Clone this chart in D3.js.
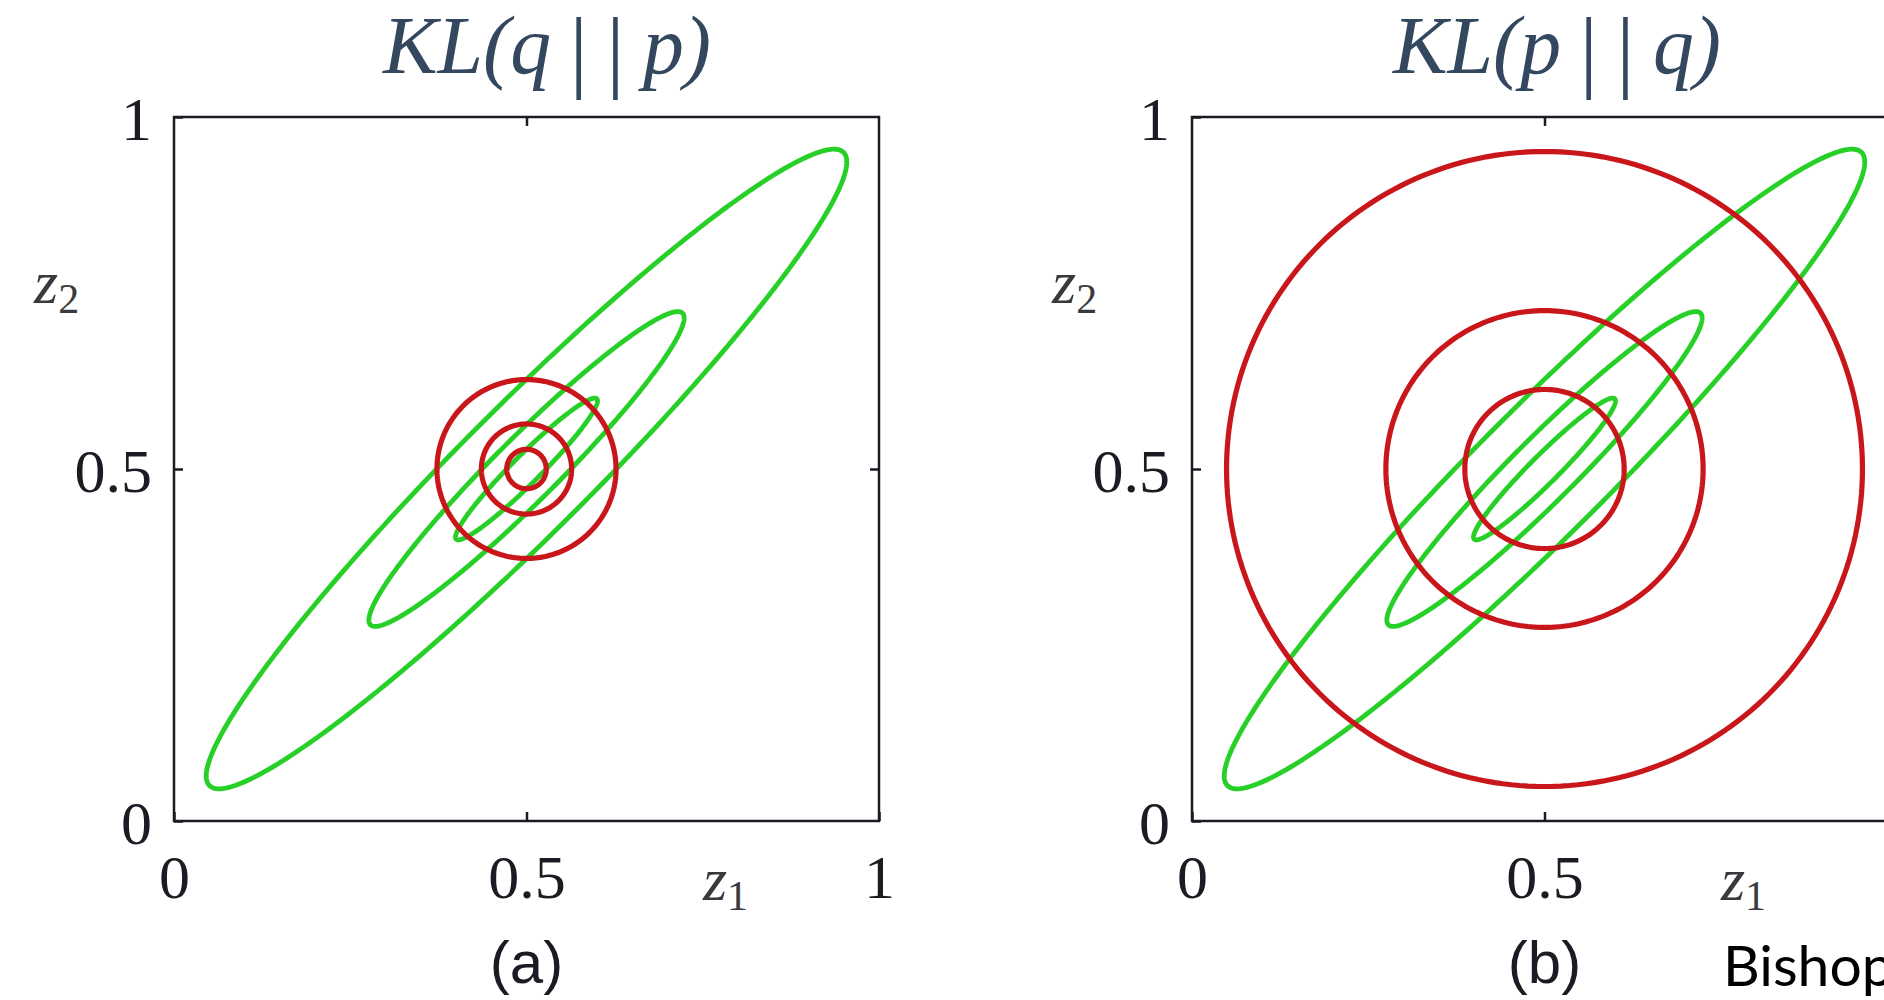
<!DOCTYPE html>
<html>
<head>
<meta charset="utf-8">
<script src="https://cdn.jsdelivr.net/npm/d3@7"></script>
<style>
  html, body { margin: 0; padding: 0; background: #ffffff; overflow: hidden; }
  svg { display: block; }
</style>
</head>
<body>
<svg id="chart" width="1884" height="1000"></svg>
<script>
// Panel headings and captions
const panelTitles = [["KL(", "q", "p", ")"], ["KL(", "p", "q", ")"]];
const panelCaptions = ["(a)", "(b)"];
const tickValues = [0, 0.5, 1];
const tickLabels = ["0", "0.5", "1"];

// p(z): correlated Gaussian, contours given as semi-axes along / across the diagonal
const pMean = [0.5, 0.5];
const pAngleDeg = 45;
const pMajor = [0.636, 0.313, 0.141];
const pMinor = [0.091, 0.045, 0.020];

// q(z): factorized Gaussian, circular contours around the same mean
const qMean = [0.5, 0.5];
const qRadiiA = [0.127, 0.064, 0.028];   // minimising KL(q||p)
const qRadiiB = [0.451, 0.225, 0.113];   // minimising KL(p||q)

const svg = d3.select("#chart");

const panels = [
  { left: 174, title: panelTitles[0], caption: panelCaptions[0], qRadii: qRadiiA, titleX: 383 },
  { left: 1192, title: panelTitles[1], caption: panelCaptions[1], qRadii: qRadiiB, titleX: 1393 }
];
const plotSize = 705, plotTop = 117;

const GREEN = "#27d027";
const RED = "#c8161a";
const INK = "#1c1a22";
const serif = "'Liberation Serif', 'Times New Roman', serif";

function ellipsePoints(c, a, b, angDeg, n) {
  const th = angDeg * Math.PI / 180;
  const pts = [];
  for (let i = 0; i < n; i++) {
    const t = 2 * Math.PI * i / n;
    const u = a * Math.cos(t), v = b * Math.sin(t);
    pts.push([c[0] + u * Math.cos(th) - v * Math.sin(th),
              c[1] + u * Math.sin(th) + v * Math.cos(th)]);
  }
  return pts;
}

panels.forEach(pn => {
  const x = d3.scaleLinear().domain([0, 1]).range([pn.left, pn.left + plotSize]);
  const y = d3.scaleLinear().domain([0, 1]).range([plotTop + plotSize - 1, plotTop]);
  const g = svg.append("g");

  const line = d3.line().x(d => x(d[0])).y(d => y(d[1])).curve(d3.curveLinearClosed);

  // green contours of p
  g.selectAll("path.p").data(pMajor.map((a, i) => ({ a, b: pMinor[i] })))
    .join("path").attr("class", "p")
    .attr("d", d => line(ellipsePoints(pMean, d.a, d.b, pAngleDeg, 360)))
    .attr("fill", "none").attr("stroke", GREEN).attr("stroke-width", 4.8);

  // red contours of q
  g.selectAll("path.q").data(pn.qRadii)
    .join("path").attr("class", "q")
    .attr("d", r => line(ellipsePoints(qMean, r, r, 0, 240)))
    .attr("fill", "none").attr("stroke", RED).attr("stroke-width", 5.2);

  // frame
  g.append("rect")
    .attr("x", x(0)).attr("y", y(1))
    .attr("width", x(1) - x(0)).attr("height", y(0) - y(1))
    .attr("fill", "none").attr("stroke", INK).attr("stroke-width", 2.5);

  const fmt = d => tickLabels[tickValues.indexOf(d)];

  const bottom = g.append("g").attr("transform", `translate(0,${y(0)})`)
    .call(d3.axisBottom(x).tickValues(tickValues).tickFormat(fmt).tickSize(-9).tickPadding(0));
  bottom.selectAll("text").attr("y", 77).attr("dy", 0);

  const leftAx = g.append("g").attr("transform", `translate(${x(0)},0)`)
    .call(d3.axisLeft(y).tickValues(tickValues).tickFormat(fmt).tickSize(-9).tickPadding(22));
  leftAx.selectAll("text").attr("dy", "0.36em");

  g.append("g").attr("transform", `translate(0,${y(1)})`)
    .call(d3.axisTop(x).tickValues([0.5]).tickFormat("").tickSize(-9));
  g.append("g").attr("transform", `translate(${x(1)},0)`)
    .call(d3.axisRight(y).tickValues([0.5]).tickFormat("").tickSize(-9));

  g.selectAll(".domain").remove();
  g.selectAll(".tick line").attr("stroke", INK).attr("stroke-width", 2.5);
  g.selectAll(".tick text").attr("font-family", serif).attr("font-size", 62).attr("fill", INK);

  // axis names
  const z2 = g.append("text").attr("x", x(0) - 140).attr("y", 303)
    .attr("font-family", serif).attr("fill", "#3a3a3e");
  z2.append("tspan").attr("font-style", "italic").attr("font-size", 62).text("z");
  z2.append("tspan").attr("font-size", 42).attr("dy", 10).text("2");

  const z1 = g.append("text").attr("x", x(0.79) - 28).attr("y", 900)
    .attr("font-family", serif).attr("fill", "#3a3a3e");
  z1.append("tspan").attr("font-style", "italic").attr("font-size", 62).text("z");
  z1.append("tspan").attr("font-size", 42).attr("dy", 10).text("1");

  // caption
  g.append("text").attr("x", x(0.5)).attr("y", 983).attr("text-anchor", "middle")
    .attr("font-family", "'Liberation Sans', Arial, sans-serif").attr("font-size", 60)
    .attr("fill", INK).text(pn.caption);

  // heading
  const t = svg.append("text").attr("x", pn.titleX).attr("y", 73)
    .attr("font-family", serif).attr("font-size", 82).attr("fill", "#33475f")
    .attr("textLength", 328).attr("lengthAdjust", "spacingAndGlyphs");
  t.append("tspan").attr("font-style", "italic").text(pn.title[0] + pn.title[1]);
  t.append("tspan").attr("font-size", 92).attr("dy", 8).text("\u2009|\u2009|\u2009");
  t.append("tspan").attr("font-style", "italic").attr("font-size", 82).attr("dy", -8).text(pn.title[2] + pn.title[3]);
});

svg.append("text").attr("x", 1723).attr("y", 986)
  .attr("font-family", "Lato, 'Open Sans', sans-serif").attr("font-size", 57)
  .attr("fill", "#000").text("Bishop");
</script>
</body>
</html>
